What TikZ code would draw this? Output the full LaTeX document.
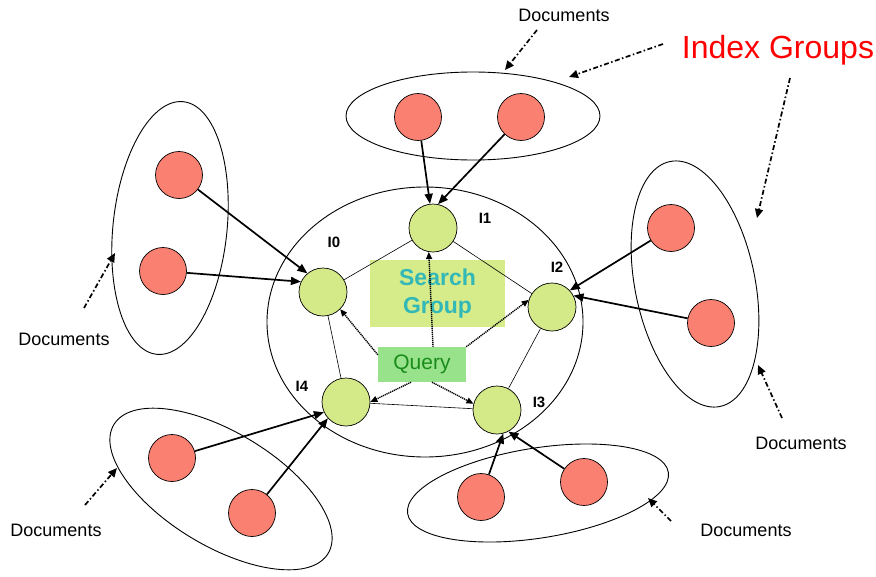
\documentclass[tikz,border=0pt]{standalone}
\usepackage{fontspec}
\setmainfont{Liberation Sans}
\usetikzlibrary{arrows.meta}

\definecolor{docred}{RGB}{250,128,114}
\definecolor{idxgreen}{RGB}{212,234,136}
\definecolor{sgfill}{RGB}{214,236,138}
\definecolor{sgtext}{RGB}{51,184,184}
\definecolor{qfill}{RGB}{152,226,140}
\definecolor{qtext}{RGB}{26,140,26}

\begin{document}
\begin{tikzpicture}[x=1pt,y=-1pt,
  doc/.style={circle,draw=black,line width=0.7pt,fill=docred,minimum size=47pt,inner sep=0pt},
  idx/.style={circle,draw=black,line width=0.7pt,fill=idxgreen,minimum size=48pt,inner sep=0pt},
  grp/.style={draw=black,line width=0.9pt},
  feed/.style={line width=1.7pt,-{Triangle[length=10pt,width=8pt]}},
  ring/.style={line width=0.6pt},
  qarrow/.style={dash pattern=on 1.2pt off 0.8pt,line width=1.4pt,-{Triangle[length=7pt,width=6pt]}},
  callout/.style={line width=1.7pt,dash pattern=on 5pt off 2.5pt on 1.5pt off 2.5pt,-{Triangle[length=9pt,width=8pt]}},
  doclabel/.style={font=\fontsize{18}{21}\selectfont,anchor=base},
  idxlabel/.style={font=\fontsize{15}{17}\selectfont\bfseries,anchor=base}]

\useasboundingbox (0,0) rectangle (876,576);

% document groups around the search group
\draw[grp] (473,116) ellipse [x radius=127, y radius=44];
\draw[grp,rotate around={-6:(170,228)}] (170,228) ellipse [x radius=57, y radius=127];
\draw[grp,rotate around={11.5:(695,284)}] (695,284) ellipse [x radius=60, y radius=125];
\draw[grp,rotate around={-31:(221,489)}] (221,489) ellipse [x radius=125, y radius=57];
\draw[grp,rotate around={9:(538,493)}] (538,493) ellipse [x radius=132, y radius=45];

% the search group itself
\draw[grp] (425,322) ellipse [x radius=158, y radius=135];

\node[fill=sgfill,minimum width=135pt,minimum height=67pt,inner sep=0pt,align=center,
      text=sgtext,font=\fontsize{23}{28}\selectfont\bfseries] (sg) at (437.5,293.5) {Search\\Group};

% index nodes
\node[idx] (I0) at (323,292) {};
\node[idx] (I1) at (433,228) {};
\node[idx] (I2) at (552,307) {};
\node[idx] (I3) at (497,410) {};
\node[idx] (I4) at (346,402) {};

\node[fill=qfill,minimum width=88pt,minimum height=35pt,inner sep=0pt,
      text=qtext,font=\fontsize{21}{24}\selectfont] (q) at (422,364.5) {Query};

% documents
\node[doc] (dt1) at (418,117) {};
\node[doc] (dt2) at (521,117) {};
\node[doc] (dl1) at (179,175) {};
\node[doc] (dl2) at (163,271) {};
\node[doc] (dr1) at (671,228) {};
\node[doc] (dr2) at (711,323) {};
\node[doc] (db1) at (172,458) {};
\node[doc] (db2) at (252,513) {};
\node[doc] (dc1) at (481,497) {};
\node[doc] (dc2) at (584,482) {};

% ring between the index nodes
\draw[ring] (I0) -- (I1);
\draw[ring] (I1) -- (I2);
\draw[ring] (I2) -- (I3);
\draw[ring] (I3) -- (I4);
\draw[ring] (I4) -- (I0);

% documents feeding the index nodes
\draw[feed] (dt1) -- (I1.97);
\draw[feed] (dt2) -- (I1.78);
\draw[feed] (dl1) -- (I0.130);
\draw[feed] (dl2) -- (I0.155);
\draw[feed] (dr1) -- (I2.43);
\draw[feed] (dr2) -- (I2.28);
\draw[feed] (db1) -- (I4.205);
\draw[feed] (db2) -- (I4.222);
\draw[feed] (dc1) -- (I3.-75);
\draw[feed] (dc2) -- (I3.-62);

% query fan-out
\draw[qarrow] ([yshift=-8pt]q.north west) -- (I0.-45);
\draw[qarrow] ([xshift=11pt]q.north) -- (I1.-100);
\draw[qarrow] (q.north east) -- (I2.163);
\draw[qarrow] ([xshift=-11pt]q.south) -- (I4.east);
\draw[qarrow] ([xshift=10pt]q.south) -- (I3.165);

% index labels
\node[idxlabel] (lI0) at (334,247) {I0};
\node[idxlabel] (lI1) at (485,223) {I1};
\node[idxlabel] (lI2) at (557,272) {I2};
\node[idxlabel] (lI3) at (539,407) {I3};
\node[idxlabel] (lI4) at (302,391) {I4};

% captions
\node[doclabel] (capT) at (564,21) {Documents};
\node[doclabel] (capL) at (64,345) {Documents};
\node[doclabel] (capR) at (801,449) {Documents};
\node[doclabel] (capBL) at (56,536) {Documents};
\node[doclabel] (capBR) at (746,536) {Documents};
\node[anchor=base,text=red,font=\fontsize{32}{36}\selectfont] (capIG) at (778,58) {Index Groups};

% call-out arrows
\coordinate (cT0) at (537,30);   \coordinate (cT1) at (505,70);
\coordinate (cG0) at (663,44);   \coordinate (cG1) at (569,77);
\coordinate (cH0) at (790,78);   \coordinate (cH1) at (757,218);
\coordinate (cL0) at (84,308);   \coordinate (cL1) at (115,253);
\coordinate (cR0) at (782,418);  \coordinate (cR1) at (758,365);
\coordinate (cB0) at (85,505);   \coordinate (cB1) at (117,468);
\coordinate (cC0) at (671,521);  \coordinate (cC1) at (648,498);
\draw[callout] (cT0) -- (cT1);
\draw[callout] (cG0) -- (cG1);
\draw[callout] (cH0) -- (cH1);
\draw[callout] (cL0) -- (cL1);
\draw[callout] (cR0) -- (cR1);
\draw[callout] (cB0) -- (cB1);
\draw[callout] (cC0) -- (cC1);
\end{tikzpicture}
\end{document}
